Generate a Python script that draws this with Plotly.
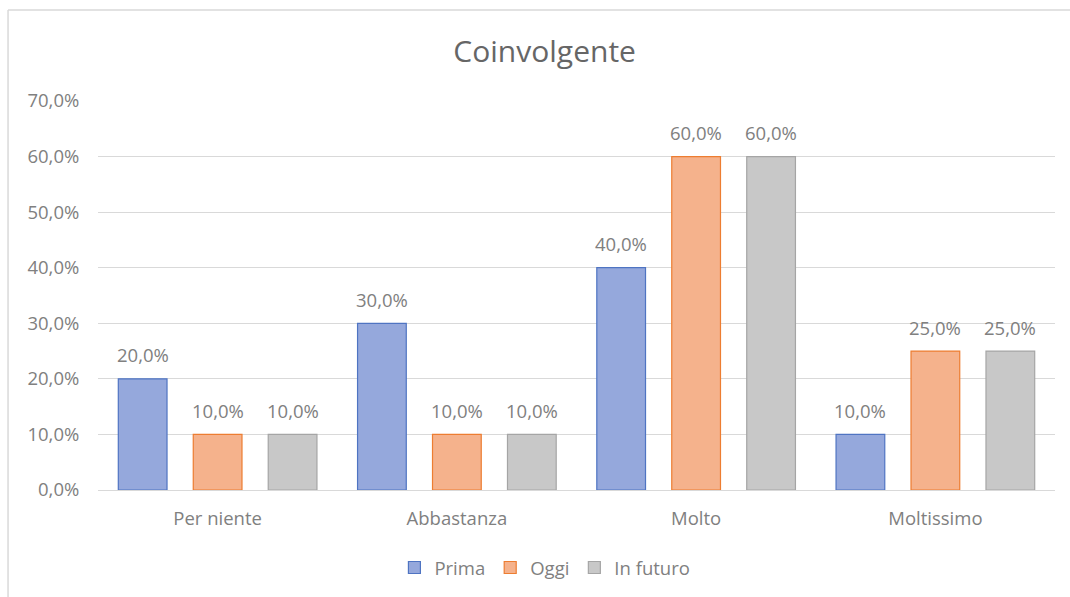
import plotly.graph_objects as go

categories = ["Per niente", "Abbastanza", "Molto", "Moltissimo"]
series_names = ["Prima", "Oggi", "In futuro"]
prima = [0.20, 0.30, 0.40, 0.10]
oggi = [0.10, 0.10, 0.60, 0.25]
futuro = [0.10, 0.10, 0.60, 0.25]
y_ticks = [0.0, 0.1, 0.2, 0.3, 0.4, 0.5, 0.6, 0.7]

series_values = [prima, oggi, futuro]
fills = ["#95a8dc", "#f5b28c", "#c8c8c8"]
lines = ["#4f74c2", "#ed7d31", "#a5a5a5"]

FONT = "Open Sans"
TXT = "#808080"
FS = 18.5

fig = go.Figure()
for name, vals, fc, lc in zip(series_names, series_values, fills, lines):
    fig.add_trace(go.Bar(
        name=name, x=categories, y=vals,
        marker=dict(color=fc, line=dict(color=lc, width=1.2)),
        hoverinfo="skip",
    ))

# data labels above bars
slot = 75
annotations = []
for i, vals in enumerate(series_values):
    for c, v in zip(categories, vals):
        annotations.append(dict(
            x=c, y=v, xref="x", yref="y", text=f"{v*100:.1f}%".replace(".", ","),
            showarrow=False, xshift=(i - 1) * slot, yshift=24, yanchor="middle",
            font=dict(family=FONT, size=FS, color=TXT),
        ))

fig.update_layout(
    width=1070, height=597,
    margin=dict(l=98, r=15, t=101, b=107, autoexpand=False),
    paper_bgcolor="white", plot_bgcolor="white",
    separators=",.",
    barmode="group", bargap=0.06, bargroupgap=0.35,
    title=dict(text="Coinvolgente", x=0.509, xanchor="center", y=1 - 51 / 597, yanchor="middle",
               font=dict(family=FONT, size=30, color="#666666")),
    font=dict(family=FONT, size=FS, color=TXT),
    showlegend=True,
    legend=dict(orientation="h", x=0.467, xanchor="center", y=-0.2005, yanchor="middle",
                font=dict(family=FONT, size=FS, color=TXT), itemwidth=30, tracegroupgap=0,
                traceorder="normal"),
    annotations=annotations,
    shapes=[
        dict(type="line", xref="paper", yref="paper", x0=-0.094, x1=1.02, y0=1.234, y1=1.234,
             line=dict(color="#d9d9d9", width=1.5)),
        dict(type="line", xref="paper", yref="paper", x0=-0.094, x1=-0.094, y0=1.234, y1=-0.28,
             line=dict(color="#d9d9d9", width=1.5)),
    ],
)
fig.update_xaxes(showgrid=False, showline=True, linecolor="#d9d9d9", linewidth=1,
                 ticks="outside", ticklen=12, tickcolor="rgba(0,0,0,0)", automargin=False,
                 tickfont=dict(family=FONT, size=FS, color=TXT))
fig.update_yaxes(range=[0, 0.7], tickvals=y_ticks, tickformat=".1%", showgrid=True,
                 gridcolor="#d9d9d9", gridwidth=1, zeroline=False, showline=False,
                 ticks="outside", ticklen=14, tickcolor="rgba(0,0,0,0)", automargin=False,
                 tickfont=dict(family=FONT, size=FS, color=TXT))

fig.write_html("out.html")
